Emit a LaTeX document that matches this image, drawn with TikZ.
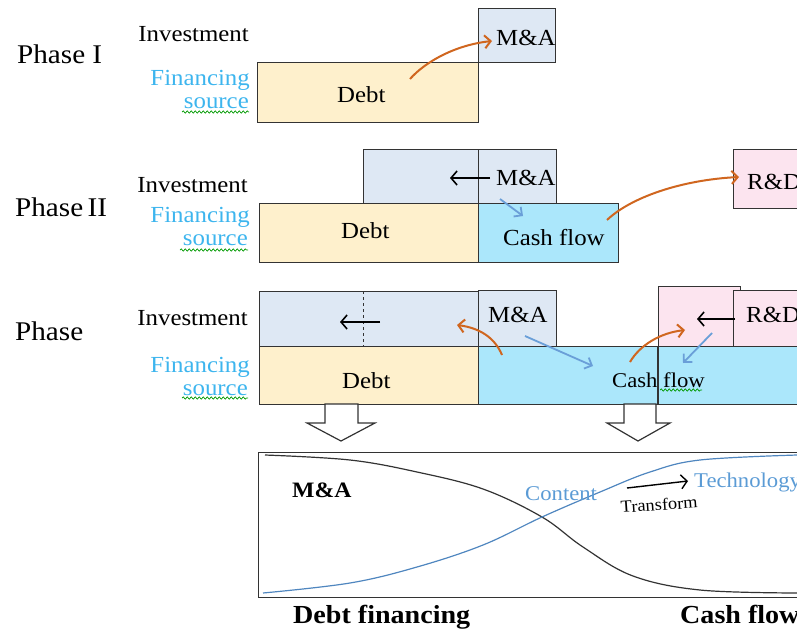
\documentclass[tikz,border=0pt]{standalone}
\usepackage{fontspec}
\setmainfont{Liberation Serif}[FakeStretch=1.08]
\usetikzlibrary{arrows.meta,decorations.pathmorphing}

\definecolor{invfill}{HTML}{DEE8F4}
\definecolor{debtfill}{HTML}{FEF0CC}
\definecolor{cashfill}{HTML}{ABE7FB}
\definecolor{rdfill}{HTML}{FCE4EF}
\definecolor{boxline}{HTML}{333333}
\definecolor{finblue}{HTML}{3DB5EE}
\definecolor{orarrow}{HTML}{D0661F}
\definecolor{bluearrow}{HTML}{6A9FD8}
\definecolor{curveblue}{HTML}{4F86BF}
\definecolor{textblue}{HTML}{5B9BD5}

\begin{document}
\begin{tikzpicture}[x=1pt,y=-1pt,
    every node/.style={inner sep=0pt},
    box/.style={draw=boxline, line width=1.4pt, anchor=north west},
    lbl/.style={font=\fontsize{23}{27}\selectfont},
    phase/.style={font=\fontsize{27}{31}\selectfont, anchor=base west},
    invlbl/.style={lbl, anchor=base east},
    finlbl/.style={lbl, text=finblue, anchor=base east},
    intext/.style={lbl, anchor=base west},
    oarrow/.style={draw=orarrow, line width=2pt, -{Straight Barb[length=6pt,width=13pt]}},
    barrow/.style={draw=bluearrow, line width=1.8pt, -{Straight Barb[length=6pt,width=12pt]}},
    karrow/.style={draw=black, line width=1.6pt, -{Straight Barb[length=6pt,width=14pt]}},
    squig/.style={draw=green!60!black, line width=0.7pt, decorate,
      decoration={snake, amplitude=1.1pt, segment length=4pt}},
    hollow/.style={draw=boxline, line width=1.2pt, fill=white, line join=miter}]
\useasboundingbox (0,0) rectangle (797,632);

% Phase I
\node[phase] (phA) at (17,63) {Phase I};
\node[invlbl] (invA) at (249,41) {Investment};
\node[finlbl] (finA) at (250,85) {Financing};
\node[finlbl] (srcA) at (249,108) {source};
\draw[squig] (182,112) -- (249,112);
\node[box, fill=debtfill, minimum width=221pt, minimum height=60pt] (debtA) at (257,62) {};
\node[box, fill=invfill, minimum width=77pt, minimum height=54pt] (maA) at (478,8) {};
\node[intext] (debtAt) at (337,102) {Debt};
\node[intext] (maAt) at (496,45) {M\&A};
\coordinate (oA1) at (410,79);
\coordinate (oA2) at (492,41);
\draw[oarrow] (oA1) .. controls (425,62) and (455,45) .. (oA2);

% Phase II
\node[phase] (phB) at (15,216) {Phase\,II};
\node[invlbl] (invB) at (248,192) {Investment};
\node[finlbl] (finB) at (250,222) {Financing};
\node[finlbl] (srcB) at (248,245) {source};
\draw[squig] (180,250) -- (248,250);
\node[box, fill=invfill, minimum width=115pt, minimum height=55pt] (extB) at (363,149) {};
\node[box, fill=invfill, minimum width=78pt, minimum height=55pt] (maB) at (478,149) {};
\node[box, fill=debtfill, minimum width=219pt, minimum height=59pt] (debtB) at (259,203) {};
\node[box, fill=cashfill, minimum width=140pt, minimum height=59pt] (cashB) at (478,203) {};
\node[box, fill=rdfill, minimum width=70pt, minimum height=59pt] (rdB) at (733,149) {};
\node[intext] (debtBt) at (341,238) {Debt};
\node[intext] (maBt) at (496,185) {M\&A};
\node[intext] (cashBt) at (503,245) {Cash flow};
\node[intext] (rdBt) at (747,189) {R\&D};
\coordinate (kB1) at (490,178);
\coordinate (kB2) at (450,178);
\draw[karrow] (kB1) -- (kB2);
\coordinate (bB1) at (500,199);
\coordinate (bB2) at (523,216);
\draw[barrow] (bB1) -- (bB2);
\coordinate (oB1) at (607,220);
\coordinate (oB2) at (739,177);
\draw[oarrow] (oB1) .. controls (630,198) and (680,180) .. (oB2);

% Phase III
\node[phase] (phC) at (15,340) {Phase};
\node[invlbl] (invC) at (248,325) {Investment};
\node[finlbl] (finC) at (250,372) {Financing};
\node[finlbl] (srcC) at (248,395) {source};
\draw[squig] (182,398) -- (248,398);
\node[box, fill=invfill, minimum width=219pt, minimum height=55pt] (extC) at (259,291) {};
\draw[boxline, line width=1pt, dashed] (extC.north) ++(-5.5,0) -- ++(0,55);
\node[box, fill=invfill, minimum width=78pt, minimum height=56pt] (maC) at (478,290) {};
\node[box, fill=debtfill, minimum width=219pt, minimum height=58pt] (debtC) at (259,346) {};
\node[box, fill=cashfill, minimum width=330pt, minimum height=58pt] (cashC) at (478,346) {};
\node[box, fill=rdfill, minimum width=82pt, minimum height=60pt] (pinkC) at (658,286) {};
\node[box, fill=rdfill, minimum width=70pt, minimum height=56pt] (rdC) at (733,290) {};
\draw[boxline, line width=1.4pt] (pinkC.south west) -- ++(0,58);
\node[intext] (debtCt) at (342,388) {Debt};
\node[intext] (maCt) at (488,322) {M\&A};
\node[intext] (rdCt) at (746,322) {R\&D};
\node[lbl, font=\fontsize{21}{25}\selectfont, anchor=base west] (cashCt) at (612,387) {Cash flow};
\draw[squig] (660,390) -- (702,390);
\coordinate (kC1) at (380,322);
\coordinate (kC2) at (340,322);
\draw[karrow] (kC1) -- (kC2);
\coordinate (kD1) at (735,319);
\coordinate (kD2) at (697,319);
\draw[karrow] (kD1) -- (kD2);
\coordinate (oC1) at (502,355);
\coordinate (oC2) at (457,325);
\draw[oarrow] (oC1) .. controls (495,338) and (480,328) .. (oC2);
\coordinate (bC1) at (525,336);
\coordinate (bC2) at (593,366);
\draw[barrow] (bC1) -- (bC2);
\coordinate (oD1) at (630,362);
\coordinate (oD2) at (685,330);
\draw[oarrow] (oD1) .. controls (640,345) and (660,333) .. (oD2);
\coordinate (bD1) at (712,333);
\coordinate (bD2) at (683,363);
\draw[barrow] (bD1) -- (bD2);

% hollow arrows
\draw[hollow] (325,404) -- (358,404) -- (358,423) -- (375,423) -- (341,441) -- (307,423) -- (325,423) -- cycle;
\draw[hollow] (624,404) -- (656,404) -- (656,423) -- (670,423) -- (638,441) -- (607,423) -- (624,423) -- cycle;

% bottom panel
\node[box, minimum width=550pt, minimum height=145pt] (panel) at (258,452) {};
\draw[boxline, line width=1.2pt] plot[smooth, tension=0.6] coordinates {(265,455) (350,460) (417,472) (483,489) (542,517) (583,547) (633,576) (700,590) (797,593)};
\draw[curveblue, line width=1.2pt] plot[smooth, tension=0.6] coordinates {(263,593) (350,583) (417,567) (483,545) (542,517) (600,492) (650,472) (700,460) (797,455)};
\node[intext, font=\bfseries\fontsize{22}{26}\selectfont] (maD) at (292,497) {M\&A};
\node[intext, font=\fontsize{21}{25}\selectfont, text=textblue] (cont) at (525,500) {Content};
\node[intext, font=\fontsize{21}{25}\selectfont, text=textblue] (tech) at (694,487) {Technology};
\node[anchor=base west, font=\fontsize{17}{20}\selectfont, rotate=4] (trans) at (621,513) {Transform};
\coordinate (tr1) at (627,488);
\coordinate (tr2) at (688,481);
\draw[karrow, line width=1.4pt] (tr1) -- (tr2);
\node[intext, font=\bfseries\fontsize{26}{30}\selectfont] (debtfin) at (293,623) {Debt financing};
\node[intext, font=\bfseries\fontsize{26}{30}\selectfont] (cashfl) at (680,623) {Cash flow};
\end{tikzpicture}
\end{document}
